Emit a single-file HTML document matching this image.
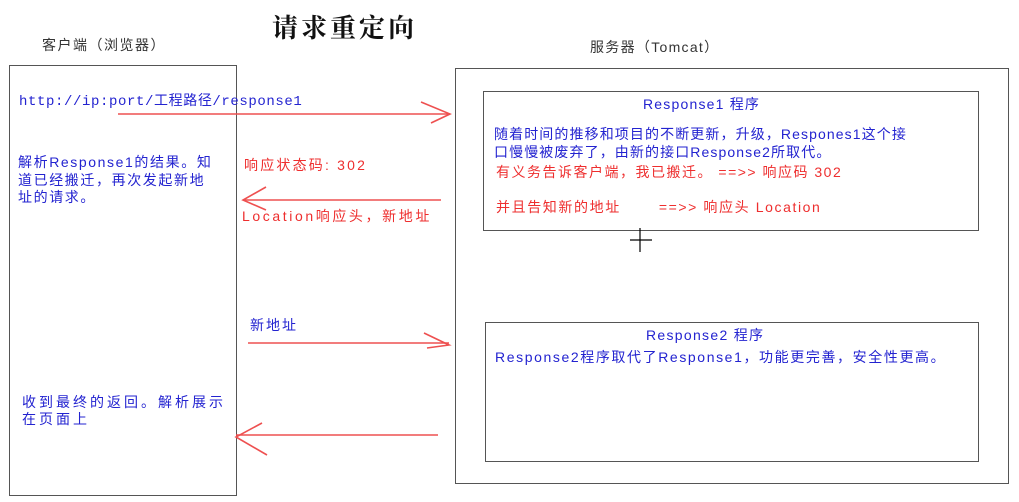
<!DOCTYPE html>
<html><head><meta charset="utf-8"><style>
body{margin:0;width:1019px;height:502px;background:#fff;position:relative;overflow:hidden;font-family:"Liberation Sans","Noto Sans CJK SC",sans-serif}
.a{position:absolute;white-space:nowrap;line-height:1}
.b{position:absolute;border:1.5px solid #555;box-sizing:border-box}
.blue{color:#2323d0}.red{color:#ee2e2e}
</style></head><body>
<div class="a" style="left:272px;top:14px;font-size:26px;font-weight:bold;color:#111;font-family:'Noto Serif CJK SC',serif;letter-spacing:3px">请求重定向</div>
<div class="a" style="left:42px;top:38px;font-size:14px;color:#333;letter-spacing:1.5px">客户端（浏览器）</div>
<div class="a" style="left:590px;top:40px;font-size:14px;color:#333;letter-spacing:1.3px">服务器（Tomcat）</div>
<div class="b" style="left:9px;top:65px;width:228px;height:431px"></div>
<div class="b" style="left:455px;top:68px;width:554px;height:416px"></div>
<div class="b" style="left:483px;top:91px;width:496px;height:140px"></div>
<div class="b" style="left:485px;top:322px;width:494px;height:140px"></div>

<div class="a blue" style="left:19px;top:95px;font-size:14px;letter-spacing:0.6px;font-family:'Liberation Mono','Noto Sans CJK SC',monospace">http://ip:port/工程路径/response1</div>
<div class="a blue" style="left:18px;top:154px;font-size:14px;line-height:17.5px;letter-spacing:1.6px">解析Response1的结果。知<br>道已经搬迁，再次发起新地<br>址的请求。</div>
<div class="a red" style="left:244px;top:158px;font-size:14px;letter-spacing:2.2px">响应状态码: 302</div>
<div class="a red" style="left:242px;top:209px;font-size:14px;letter-spacing:2.6px">Location响应头，新地址</div>
<div class="a blue" style="left:250px;top:318px;font-size:14px;letter-spacing:2px">新地址</div>
<div class="a blue" style="left:22px;top:394px;font-size:14px;line-height:17px;letter-spacing:3px">收到最终的返回。解析展示<br>在页面上</div>

<div class="a blue" style="left:643px;top:97px;font-size:14px;letter-spacing:1.2px">Response1 程序</div>
<div class="a blue" style="left:494px;top:125px;font-size:14px;line-height:18px;letter-spacing:1.1px">随着时间的推移和项目的不断更新，升级，Respones1这个接<br>口慢慢被废弃了，由新的接口Response2所取代。</div>
<div class="a red" style="left:496px;top:165px;font-size:14px;letter-spacing:1.5px">有义务告诉客户端，我已搬迁。 ==>> 响应码 302</div>
<div class="a red" style="left:496px;top:200px;font-size:14px;letter-spacing:1.6px">并且告知新的地址<span style="display:inline-block;width:38px"></span>==>> 响应头 Location</div>

<div class="a blue" style="left:646px;top:328px;font-size:14px;letter-spacing:1.3px">Response2 程序</div>
<div class="a blue" style="left:495px;top:350px;font-size:14px;letter-spacing:1.6px">Response2程序取代了Response1，功能更完善，安全性更高。</div>

<svg width="1019" height="502" style="position:absolute;left:0;top:0" fill="none" stroke="#ee5050" stroke-width="1.6">
<line x1="118" y1="114" x2="450" y2="114"/><polyline points="421,102 450,114 431,123"/>
<line x1="441" y1="200" x2="243" y2="200"/><polyline points="266,187 243,200 266,210"/>
<line x1="248" y1="343" x2="449" y2="343"/><polyline points="424,333 449,345 427,348"/>
<line x1="438" y1="435" x2="236" y2="435"/><polyline points="262,423 236,437 267,455"/>
<g stroke="#000" stroke-width="1.2"><line x1="640" y1="228" x2="640" y2="252"/><line x1="630" y1="240" x2="652" y2="240"/></g>
</svg>
</body></html>
